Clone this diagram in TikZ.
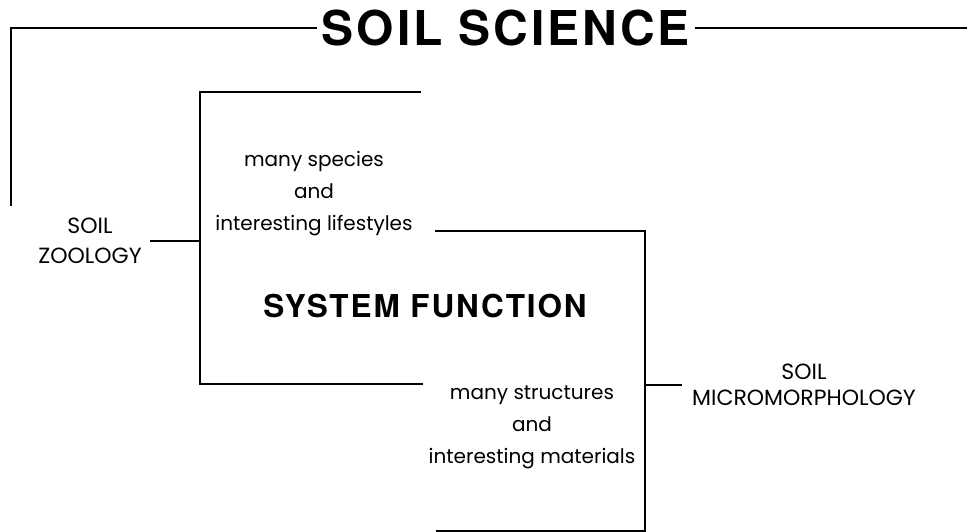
\documentclass[tikz,border=0pt]{standalone}
\usepackage{fontspec}
\setmainfont{Poppins}
\newfontfamily\headfont[LetterSpace=6]{TeX Gyre Heros}
\begin{document}
\begin{tikzpicture}[x=1pt, y=-1pt, line width=1.1pt]
			
			\tikzset{
				smalltext/.style={align=center, inner sep=0pt, font=\fontsize{20}{32}\selectfont},
				areatext/.style={align=center, inner sep=10pt, font=\fontsize{22}{30}\selectfont},
				headtext/.style={inner sep=4pt, font=\headfont\bfseries\fontsize{48}{50}\selectfont}
			}
			\useasboundingbox (0,0) rectangle (967,532);
			
			% Title
			\node[headtext] (science) at (506,28) {SOIL SCIENCE};
			\coordinate (sciright) at (967,28);
			\coordinate (scileft) at (11,206);
			
			% Areas
			\node[areatext, inner sep=8pt] (zoo) at (90,241) {SOIL\\ZOOLOGY};
			\node[areatext, font=\fontsize{22}{26}\selectfont] (micro) at (804,385) {SOIL\\MICROMORPHOLOGY};
			
			% Texts
			\node[smalltext] (species) at (314,194) {many species\\and\\interesting lifestyles};
			\node[smalltext] (structures) at (532,427) {many structures\\and\\interesting materials};
			\node[headtext, font=\headfont\bfseries\fontsize{31.5}{34}\selectfont] (system) at (425,306) {SYSTEM FUNCTION};
			
			% Brackets
			\coordinate (ltop) at (421,92);
			\coordinate (lbar) at (200,92);
			\coordinate (lbot) at (423,384);
			\coordinate (rtop) at (435,231);
			\coordinate (rbar) at (645,231);
			\coordinate (rbot) at (436,531);
			
			\draw (ltop) -- (lbar) |- (lbot);
			\draw (rtop) -- (rbar) |- (rbot);
			
			% Connections
			\draw (scileft) |- (science.west);
			\draw (science.east) -- (sciright);
			\draw (zoo.east) -- (zoo.east -| lbar);
			\draw (micro.west) -- (micro.west -| rbar);
			
		\end{tikzpicture}
\end{document}
